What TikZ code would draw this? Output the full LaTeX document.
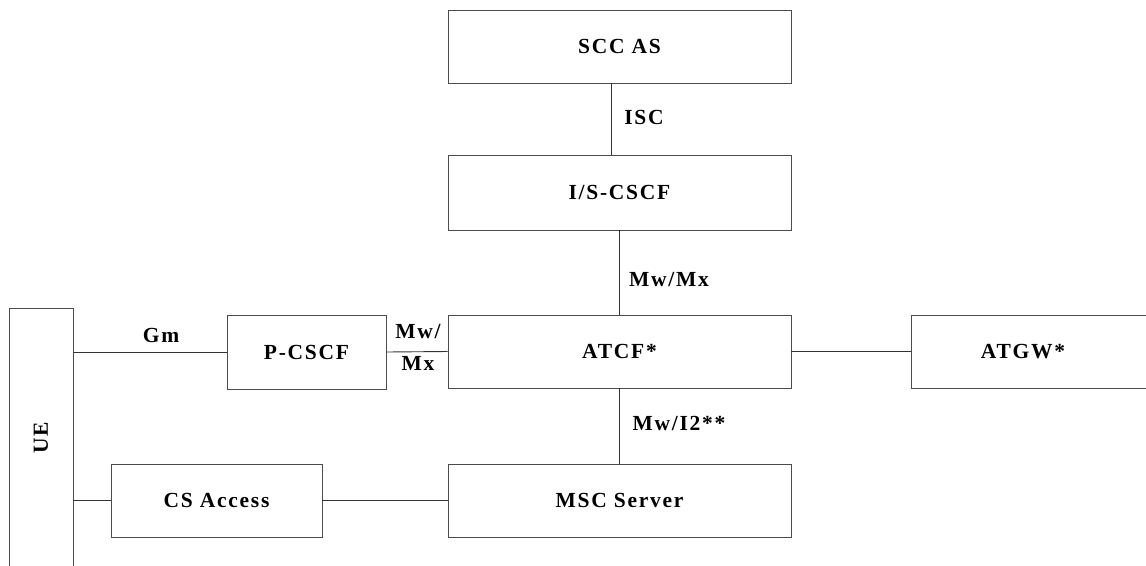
\documentclass[tikz,border=0pt]{standalone}
\usepackage{fontspec}
\setmainfont{Liberation Serif}[LetterSpace=8]
\begin{document}
\begin{tikzpicture}[x=1pt,y=-1pt,
  box/.style={draw=black!70,line width=0.9pt,inner sep=0pt,fill=white,font=\fontsize{21.5}{24}\selectfont\bfseries},
  lbl/.style={inner sep=0pt,font=\fontsize{21.5}{24}\selectfont\bfseries},
  conn/.style={draw=black!80,line width=0.9pt}]
\useasboundingbox (0,0) rectangle (1146,565);
\clip (0,0) rectangle (1146,565);
% boxes
\node[box,minimum width=343,minimum height=73] (scc) at (619.5,46.5) {SCC AS};
\node[box,minimum width=343,minimum height=75] (iscscf) at (619.5,192.5) {I/S-CSCF};
\node[box,minimum width=343,minimum height=73] (atcf) at (619.5,351.5) {ATCF*};
\node[box,minimum width=343,minimum height=73] (msc) at (619.5,500.5) {MSC Server};
\node[box,minimum width=159,minimum height=74] (pcscf) at (306.5,352) {P-CSCF};
\node[box,minimum width=211,minimum height=73] (csacc) at (216.5,500.5) {CS Access};
\node[box,minimum width=260,minimum height=73] (atgw) at (1041,351.5) {};
\node[lbl] (atgwtxt) at (1023,351.5) {ATGW*};
\node[box,minimum width=64,minimum height=300] (ue) at (41,458) {};
\node[lbl,rotate=90] (uetxt) at (41,438) {UE};
% connectors
\draw[conn] ([xshift=-8pt]scc.south) -- ([xshift=-8pt]iscscf.north);
\draw[conn] (iscscf.south) -- (atcf.north);
\draw[conn] (atcf.south) -- (msc.north);
\draw[conn] (pcscf.west) -- (pcscf.west -| ue.east);
\draw[conn] (pcscf.east) -- (atcf.west);
\draw[conn] (atcf.east) -- (atgw.west);
\draw[conn] (csacc.west) -- (csacc.west -| ue.east);
\draw[conn] (csacc.east) -- (msc.west);
% labels
\node[lbl] (lisc) at (644,117) {ISC};
\node[lbl] (lmwmx) at (669,280) {Mw/Mx};
\node[lbl] (lmwi2) at (679,423) {Mw/I2**};
\node[lbl] (lgm) at (161,335) {Gm};
\node[lbl] (lmw) at (418,332) {Mw/};
\node[lbl] (lmx) at (418,363) {Mx};
\end{tikzpicture}
\end{document}
